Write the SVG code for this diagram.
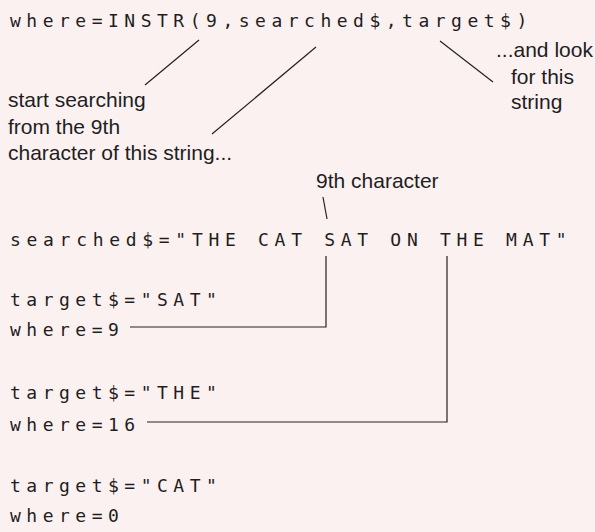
<svg xmlns="http://www.w3.org/2000/svg" width="595" height="532" viewBox="0 0 595 532">
<style>
.code{font-family:"DejaVu Sans Mono","Liberation Mono",monospace;font-size:18px;letter-spacing:5.5px;fill:#1e1e1e}
.up{letter-spacing:5.7px}
.note{font-family:"Liberation Sans",Arial,sans-serif;font-size:21px;fill:#1e1e1e}
.ln{stroke:#222;stroke-width:1.2;fill:none}
</style>
<rect width="595" height="532" fill="#fcf1f1"/>
<g id="code-instr"><text class="code" x="10" y="27">where=INSTR(9,searched$,target$)</text></g>
<g id="note-start"><text class="note" x="8" y="107">start searching</text><text class="note" x="8" y="134">from the 9th</text><text class="note" x="8" y="160">character of this string...</text></g>
<g id="note-look"><text class="note" x="496" y="57">...and look</text><text class="note" x="511" y="84">for this</text><text class="note" x="511" y="109">string</text></g>
<g id="note-9th"><text class="note" x="316" y="188">9th character</text></g>
<g id="code-searched"><text class="code up" x="10" y="246">searched$="THE CAT SAT ON THE MAT"</text></g>
<g id="code-sat"><text class="code" x="10" y="306">target$="SAT"</text><text class="code" x="10" y="336">where=9</text></g>
<g id="code-the"><text class="code" x="10" y="399">target$="THE"</text><text class="code" x="10" y="431">where=16</text></g>
<g id="code-cat"><text class="code" x="10" y="492">target$="CAT"</text><text class="code" x="10" y="522">where=0</text></g>
<g id="connectors">
<line class="ln" x1="199" y1="40" x2="145" y2="85"/>
<line class="ln" x1="316" y1="47" x2="212" y2="134"/>
<line class="ln" x1="440" y1="41" x2="493" y2="82"/>
<line class="ln" x1="323" y1="197" x2="327" y2="219"/>
<polyline class="ln" points="326,256 326,327 130,327"/>
<polyline class="ln" points="447,256 447,422 147,422"/>
</g>
</svg>
